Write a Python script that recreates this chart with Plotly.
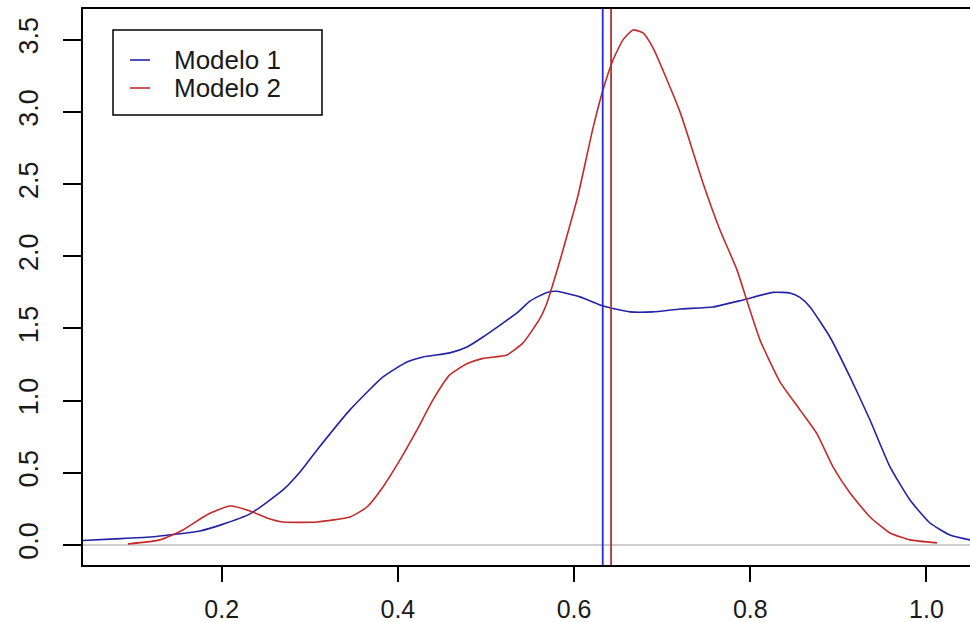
import plotly.graph_objects as go

# ---- data ----
m1_x = [0.0426, 0.0789, 0.1186, 0.1754, 0.1992, 0.2321, 0.2696, 0.2889, 0.3082, 0.3456,
        0.3831, 0.4103, 0.4285, 0.4591, 0.4784, 0.4966, 0.5352, 0.5499, 0.5692, 0.5806,
        0.6067, 0.6328, 0.6635, 0.6896, 0.7202, 0.7577, 0.7917, 0.8258, 0.8451, 0.8564,
        0.8678, 0.8904, 0.9132, 0.9359, 0.9586, 0.9813, 1.0040, 1.0267, 1.0494, 1.0700]
m1_y = [0.031, 0.042, 0.055, 0.097, 0.139, 0.215, 0.381, 0.506, 0.658, 0.936,
        1.164, 1.268, 1.303, 1.331, 1.372, 1.441, 1.608, 1.690, 1.750, 1.758,
        1.719, 1.656, 1.615, 1.615, 1.635, 1.649, 1.698, 1.750, 1.746, 1.715,
        1.649, 1.441, 1.164, 0.866, 0.541, 0.312, 0.152, 0.069, 0.035, 0.015]

m2_x = [0.0936, 0.130, 0.156, 0.183, 0.2094, 0.2321, 0.2514, 0.2696, 0.3082, 0.3456,
        0.3649, 0.3831, 0.4024, 0.4217, 0.4398, 0.4591, 0.4784, 0.4966, 0.5238, 0.5420,
        0.5613, 0.5692, 0.5806, 0.5874, 0.6044, 0.6215, 0.6328, 0.6442, 0.6555, 0.6669,
        0.6783, 0.6896, 0.7055, 0.7202, 0.7282, 0.7463, 0.7656, 0.7849, 0.7963, 0.8110,
        0.8337, 0.8564, 0.8757, 0.8939, 0.9132, 0.9359, 0.9586, 0.9813, 1.0119]
m2_y = [0.007, 0.035, 0.104, 0.208, 0.270, 0.236, 0.187, 0.159, 0.159, 0.194,
        0.263, 0.402, 0.589, 0.797, 1.005, 1.180, 1.255, 1.293, 1.317, 1.400,
        1.570, 1.677, 1.900, 2.044, 2.420, 2.890, 3.153, 3.361, 3.500, 3.569,
        3.548, 3.444, 3.222, 3.001, 2.855, 2.509, 2.183, 1.906, 1.690, 1.421,
        1.130, 0.936, 0.770, 0.541, 0.360, 0.194, 0.083, 0.035, 0.014]

means = [0.6325, 0.642]
series_names = ["Modelo 1", "Modelo 2"]
x_ticks = [0.2, 0.4, 0.6, 0.8, 1.0]
x_tick_text = ["0.2", "0.4", "0.6", "0.8", "1.0"]
y_ticks = [0.0, 0.5, 1.0, 1.5, 2.0, 2.5, 3.0, 3.5]
y_tick_text = ["0.0", "0.5", "1.0", "1.5", "2.0", "2.5", "3.0", "3.5"]

# ---- style ----
BLUE = "#2323a8"
RED = "#c42a2a"
VBLUE = "#2a2ad0"
VRED = "#b83030"
W, H = 970, 622
L, R, T, B = 83, 0, 9, 57
PW, PH = W - L - R, H - T - B


def px2paper(px, py):
    return (px - L) / PW, (H - B - py) / PH


fig = go.Figure()
fig.add_trace(go.Scatter(x=m1_x, y=m1_y, mode="lines", name=series_names[0],
                         line=dict(color=BLUE, width=1.6, shape="spline", smoothing=0.5),
                         showlegend=False))
fig.add_trace(go.Scatter(x=m2_x, y=m2_y, mode="lines", name=series_names[1],
                         line=dict(color=RED, width=1.6, shape="spline", smoothing=0.5),
                         showlegend=False))

shapes = []
# grey zero line
shapes.append(dict(type="line", xref="paper", yref="y", x0=0, x1=1, y0=0, y1=0,
                   line=dict(color="#bebebe", width=1.6), layer="below"))
# mean lines
for m, c in zip(means, [VBLUE, VRED]):
    shapes.append(dict(type="line", xref="x", yref="paper", x0=m, x1=m, y0=0, y1=1,
                       line=dict(color=c, width=1.8)))

# manual legend box
bx0, by0 = px2paper(113, 115)
bx1, by1 = px2paper(322, 30)
shapes.append(dict(type="rect", xref="paper", yref="paper", x0=bx0, x1=bx1, y0=by0, y1=by1,
                   line=dict(color="black", width=1.5), fillcolor="white"))
annotations = []
for i, (nm, c) in enumerate(zip(series_names, [BLUE, RED])):
    ly = 60 + 28 * i
    lx0, lyp = px2paper(130, ly)
    lx1, _ = px2paper(150, ly)
    shapes.append(dict(type="line", xref="paper", yref="paper", x0=lx0, x1=lx1, y0=lyp, y1=lyp,
                       line=dict(color=c, width=1.6)))
    tx, _ = px2paper(172, ly)
    annotations.append(dict(text=nm, xref="paper", yref="paper", x=tx, y=lyp,
                            xanchor="left", yanchor="middle", showarrow=False,
                            font=dict(family="Liberation Sans, Arial", size=26, color="#1a1a1a")))

fig.update_layout(
    width=W, height=H,
    margin=dict(l=L, r=R, t=T, b=B, pad=0, autoexpand=False),
    plot_bgcolor="white", paper_bgcolor="white",
    shapes=shapes, annotations=annotations,
    showlegend=False,
    xaxis=dict(range=[0.0426, 1.0494], tickmode="array", tickvals=x_ticks, ticktext=x_tick_text,
               showgrid=False, zeroline=False, showline=True, linecolor="black", linewidth=1.5,
               mirror=True, ticks="outside", ticklen=15, tickwidth=1.5, tickcolor="black",
               automargin=False,
               tickfont=dict(family="Liberation Sans, Arial", size=25, color="#1a1a1a"),
               ticklabelstandoff=6),
    yaxis=dict(range=[-0.139, 3.714], tickmode="array", tickvals=y_ticks, ticktext=y_tick_text,
               showgrid=False, zeroline=False, showline=True, linecolor="black", linewidth=1.5,
               ticks="outside", ticklen=18, tickwidth=1.5, tickcolor="black", tickangle=-90,
               automargin=False,
               tickfont=dict(family="Liberation Sans, Arial", size=27, color="#1a1a1a"),
               ticklabelstandoff=14),
)

fig.write_html("out.html")
